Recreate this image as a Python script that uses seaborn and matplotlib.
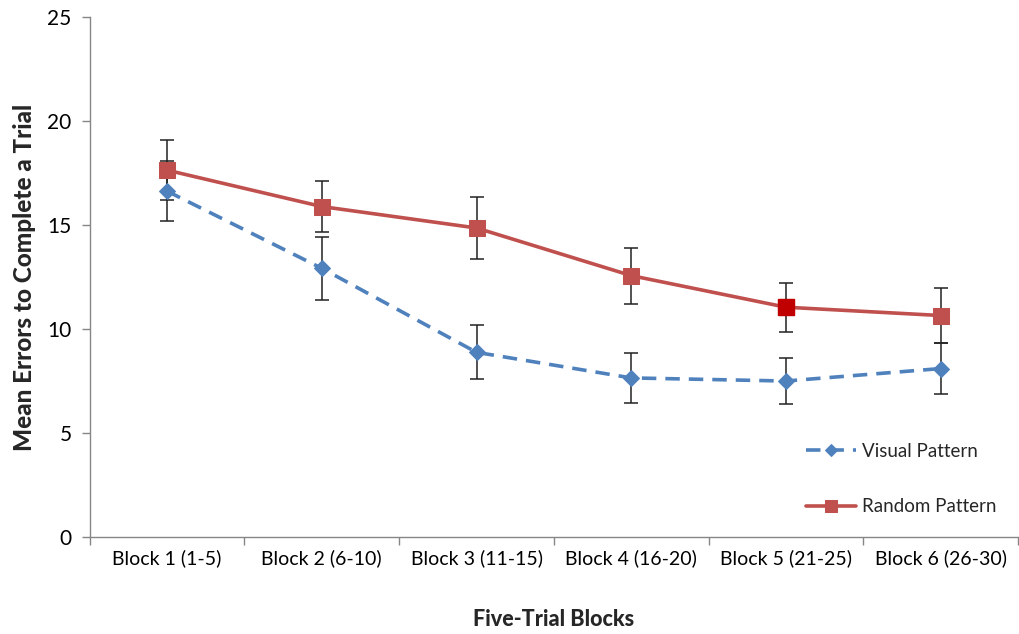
import matplotlib
matplotlib.use("Agg")
import matplotlib.pyplot as plt
import seaborn as sns
import pandas as pd
import numpy as np

categories = ["Block 1 (1-5)", "Block 2 (6-10)", "Block 3 (11-15)",
              "Block 4 (16-20)", "Block 5 (21-25)", "Block 6 (26-30)"]
visual_mean = [16.63, 12.92, 8.88, 7.65, 7.5, 8.1]
visual_err = [1.45, 1.5, 1.3, 1.2, 1.1, 1.22]
random_mean = [17.64, 15.89, 14.86, 12.57, 11.05, 10.65]
random_err = [1.45, 1.23, 1.5, 1.35, 1.17, 1.3]
series_names = ["Visual Pattern", "Random Pattern"]

sns.set_theme(style="white")
plt.rcParams['font.family'] = ['Lato', 'DejaVu Sans']

fig = plt.figure(figsize=(10.2, 6.34), dpi=100)
ax = fig.add_axes([0.088, 0.153, 0.91, 0.82])

blue = "#4F81BD"
red = "#C0504D"
x = np.arange(len(categories))

# error bars (behind markers)
ax.errorbar(x, visual_mean, yerr=visual_err, fmt="none", ecolor="#222222",
            elinewidth=1.1, capsize=5, capthick=1.1, zorder=2)
ax.errorbar(x, random_mean, yerr=random_err, fmt="none", ecolor="#222222",
            elinewidth=1.1, capsize=5, capthick=1.1, zorder=2)

df_v = pd.DataFrame({"x": x, "y": visual_mean})
df_r = pd.DataFrame({"x": x, "y": random_mean})
sns.lineplot(data=df_v, x="x", y="y", ax=ax, color=blue, lw=2.6,
             linestyle=(0, (4, 2.5)), marker="D", markersize=8,
             markeredgecolor=blue, label=series_names[0], zorder=3)
sns.lineplot(data=df_r, x="x", y="y", ax=ax, color=red, lw=2.6,
             marker="s", markersize=11, markeredgecolor=red,
             label=series_names[1], zorder=4)
# highlighted point for block 5
ax.plot([x[4]], [random_mean[4]], marker="s", markersize=11, color="#C00000",
        markeredgecolor="#C00000", linestyle="none", zorder=5)

ax.set_xlim(-0.5, len(categories) - 0.5)
ax.set_ylim(0, 25)
ax.set_yticks([0, 5, 10, 15, 20, 25])
ax.set_xticks(x)
ax.set_xticklabels(categories)
ax.set_xticks(np.arange(-0.5, len(categories), 1.0), minor=True)
ax.tick_params(axis="x", which="major", length=0, pad=9, labelsize=14, colors="#000000")
ax.tick_params(axis="x", which="minor", length=6, width=1, color="#868686", bottom=True)
ax.tick_params(axis="y", which="major", length=6, width=1, color="#868686", left=True,
               labelsize=15, pad=7, labelcolor="#000000")

for s in ["top", "right"]:
    ax.spines[s].set_visible(False)
for s in ["left", "bottom"]:
    ax.spines[s].set_color("#868686")
    ax.spines[s].set_linewidth(1)

ax.set_xlabel("Five-Trial Blocks", fontsize=15.5, fontweight="black", labelpad=30)
ax.set_ylabel("Mean Errors to Complete a Trial", fontsize=17.5, fontweight="black", labelpad=8)

leg = ax.legend(loc="lower right", bbox_to_anchor=(1.0, 0.0), frameon=False,
                fontsize=13.5, handlelength=2.7, handletextpad=0.3,
                labelspacing=2.05, borderaxespad=0.75, markerscale=0.75)

fig.savefig("out.png", dpi=100)
